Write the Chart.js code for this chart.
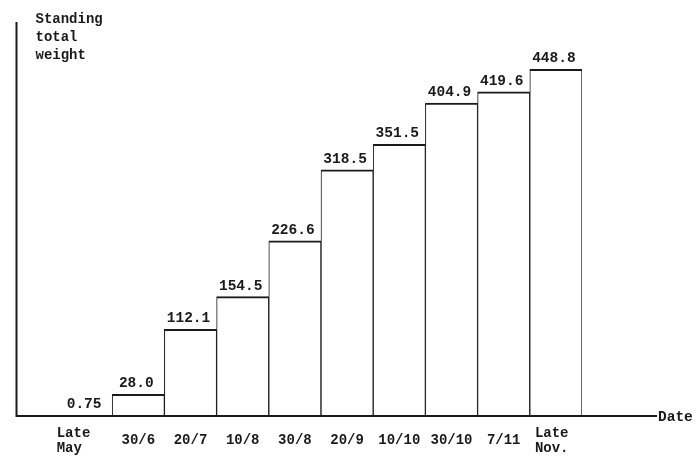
<!DOCTYPE html>
<html lang="en">
<head>
<meta charset="UTF-8">
<script src="https://cdn.jsdelivr.net/npm/chart.js"></script>
<title>Standing total weight</title>
<style>
    html, body { margin: 0; padding: 0; background: #fff; }
    #wrap { width: 700px; height: 462px; }
</style>
</head>
<body>
<div id="wrap"><canvas id="myChart"></canvas></div>
<script>
    // data
    var dateLabels = [['Late   ', 'May    '], '30/6', '20/7', '10/8', '30/8', '20/9', '10/10', '30/10', '7/11', ['Late ', 'Nov. ']];
    var weightValues = [0.75, 28.0, 112.1, 154.5, 226.6, 318.5, 351.5, 404.9, 419.6, 448.8];
    var valueText = ['0.75', '28.0', '112.1', '154.5', '226.6', '318.5', '351.5', '404.9', '419.6', '448.8'];
    var titleLines = ['Standing', 'total', 'weight'];
    var axisName = 'Date';

    var ink = '#1a1a1a';
    var mono = '"Liberation Mono", "DejaVu Sans Mono", monospace';

    // axis lines, value labels, y title and "Date"
    var extras = {
        id: 'extras',
        afterDatasetsDraw: function (chart) {
            var ctx = chart.ctx;
            var area = chart.chartArea;
            var axisX = area.left - 43.5;
            ctx.save();
            ctx.strokeStyle = ink;
            ctx.lineWidth = 2;
            ctx.beginPath();
            ctx.moveTo(axisX, area.top);
            ctx.lineTo(axisX, area.bottom + 1);
            ctx.moveTo(axisX, area.bottom);
            ctx.lineTo(area.right + 75, area.bottom);
            ctx.stroke();

            ctx.font = 'bold 14.5px ' + mono;
            ctx.fillStyle = ink;
            ctx.textAlign = 'center';
            ctx.textBaseline = 'alphabetic';
            chart.getDatasetMeta(0).data.forEach(function (bar, i) {
                ctx.fillText(valueText[i], bar.x - 2, bar.y - 7);
            });

            ctx.font = 'bold 14px ' + mono;
            ctx.textAlign = 'left';
            ctx.textBaseline = 'middle';
            titleLines.forEach(function (t, i) {
                ctx.fillText(t, axisX + 19, area.top - 3 + i * 18);
            });
            ctx.font = 'bold 14.5px ' + mono;
            ctx.fillText(axisName, area.right + 76, area.bottom + 1);
            ctx.restore();
        }
    };

    new Chart(document.getElementById('myChart'), {
        type: 'bar',
        data: {
            labels: dateLabels,
            datasets: [{
                data: weightValues,
                backgroundColor: '#fff',
                borderColor: ink,
                borderWidth: { top: 2, left: 1, right: 1, bottom: 0 },
                borderSkipped: 'start',
                categoryPercentage: 1,
                barPercentage: 1
            }]
        },
        options: {
            responsive: true,
            maintainAspectRatio: false,
            animation: false,
            layout: { padding: { left: 60, right: 118, top: 22, bottom: 0 } },
            plugins: {
                legend: { display: false },
                tooltip: { enabled: false }
            },
            scales: {
                x: {
                    grid: { display: false },
                    border: { display: false },
                    ticks: {
                        color: ink,
                        font: { family: mono, size: 14, weight: 'bold', lineHeight: 15 / 14 },
                        padding: 9,
                        maxRotation: 0,
                        minRotation: 0,
                        autoSkip: false,
                        crossAlign: 'center'
                    },
                    afterFit: function (scale) { scale.height = 46; }
                },
                y: { display: false, min: 0, max: 510 }
            }
        },
        plugins: [extras]
    });
</script>
</body>
</html>
